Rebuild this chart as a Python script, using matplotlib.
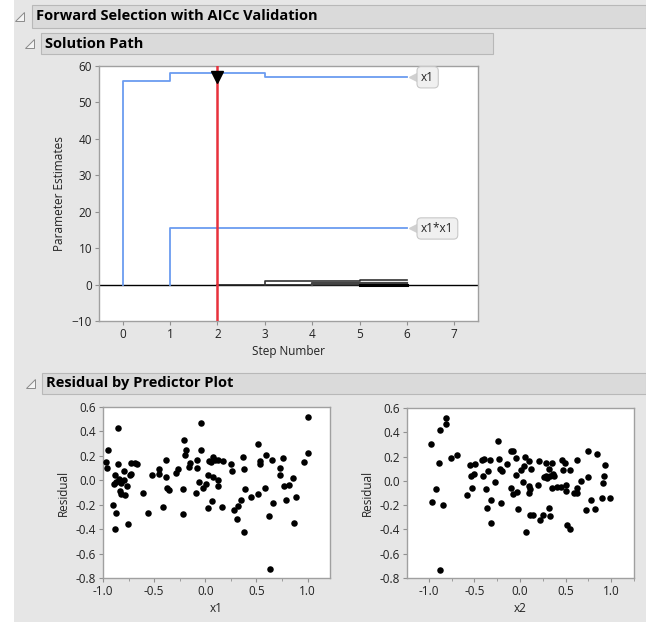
import numpy as np
import matplotlib
matplotlib.use("Agg")
import matplotlib.pyplot as plt
from matplotlib.patches import Rectangle, Polygon
from matplotlib.ticker import MultipleLocator, FormatStrFormatter

plt.rcParams['font.family'] = ['Open Sans', 'DejaVu Sans']

# %%
# Solution path: parameter estimates by step
steps = [0, 1, 2, 3, 4, 5, 6]
est_x1 = [55.8, 58.1, 58.1, 57.1, 57.0, 56.9, 56.9]
est_x1x1 = [0, 15.5, 15.5, 15.4, 15.4, 15.4, 15.4]
est_x2 = [0, 0, -0.2, -0.1, -0.1, -0.1, -0.1]
est_t4 = [0, 0, 0, 1.1, 1.1, 1.2, 1.2]
est_t5 = [0, 0, 0, 0, 0.4, 0.4, 0.4]
est_t6 = [0, 0, 0, 0, 0, -0.2, -0.2]
best_step = 2

# Residual by predictor
x1 = [-0.97, -0.95, -0.96, -0.85, -0.85, -0.90, -0.87, -0.88, -0.88, -0.89,
      -0.87, -0.84, -0.82, -0.83, -0.82, -0.79, -0.79, -0.78, -0.77, -0.76,
      -0.73, -0.73, -0.74, -0.69, -0.67, -0.61, -0.56, -0.52, -0.45, -0.45,
      -0.41, -0.38, -0.38, -0.37, -0.35, -0.29, -0.27, -0.21, -0.22, -0.22,
      -0.20, -0.19, -0.16, -0.15, -0.08, -0.08, -0.09, -0.06, -0.04, -0.04,
      -0.02, 0.01, 0.03, 0.03, 0.04, 0.06, 0.08, 0.07, 0.08, 0.10,
      0.12, 0.12, 0.12, 0.16, 0.17, 0.25, 0.26, 0.28, 0.32, 0.31,
      0.35, 0.37, 0.38, 0.38, 0.39, 0.45, 0.52, 0.52, 0.54, 0.54,
      0.58, 0.59, 0.62, 0.63, 0.65, 0.66, 0.73, 0.73, 0.76, 0.77,
      0.79, 0.82, 0.86, 0.87, 0.89, 0.97, 1.00, 1.00]
res1 = [0.15, 0.25, 0.10, 0.43, 0.13, -0.20, -0.27, -0.40, 0.04, -0.03,
        -0.01, 0.01, -0.02, -0.09, -0.11, 0.08, 0.00, -0.12, -0.05, -0.36,
        0.14, 0.05, 0.04, 0.14, 0.13, -0.10, -0.27, 0.04, 0.09, 0.05,
        -0.22, 0.03, 0.17, -0.06, -0.08, 0.06, 0.09, 0.33, -0.07, -0.28,
        0.21, 0.25, 0.11, 0.14, 0.17, 0.10, -0.10, -0.01, 0.47, 0.25,
        -0.06, -0.03, -0.23, 0.04, 0.16, 0.15, 0.03, -0.17, 0.19, 0.17,
        0.00, -0.05, 0.17, -0.22, 0.16, 0.13, 0.08, -0.24, -0.21, -0.32,
        -0.16, 0.19, 0.09, -0.42, -0.07, -0.14, 0.30, -0.11, 0.13, 0.16,
        -0.06, 0.21, -0.29, -0.73, 0.17, -0.19, 0.10, 0.04, 0.18, -0.05,
        -0.16, -0.04, 0.02, -0.35, -0.14, 0.15, 0.52, 0.22]

x2 = [-0.98, -0.97, -0.92, -0.89, -0.88, -0.88, -0.85, -0.81, -0.81, -0.76,
      -0.69, -0.58, -0.55, -0.54, -0.53, -0.50, -0.49, -0.42, -0.41, -0.39,
      -0.37, -0.36, -0.35, -0.33, -0.32, -0.32, -0.28, -0.24, -0.23, -0.22,
      -0.20, -0.21, -0.14, -0.10, -0.08, -0.10, -0.08, -0.04, -0.04, -0.03,
      -0.02, 0.01, 0.03, 0.04, 0.05, 0.07, 0.10, 0.10, 0.11, 0.10,
      0.12, 0.11, 0.14, 0.20, 0.21, 0.22, 0.25, 0.26, 0.29, 0.29,
      0.30, 0.32, 0.32, 0.33, 0.33, 0.35, 0.35, 0.36, 0.37, 0.40,
      0.45, 0.46, 0.47, 0.49, 0.50, 0.50, 0.52, 0.55, 0.55, 0.59,
      0.62, 0.63, 0.63, 0.67, 0.72, 0.74, 0.75, 0.78, 0.82, 0.84,
      0.90, 0.91, 0.92, 0.93, 0.99]
res2 = [0.30, -0.17, -0.07, 0.15, 0.42, -0.73, -0.20, 0.47, 0.52, 0.19,
        0.21, -0.12, 0.13, 0.04, -0.06, 0.06, 0.14, 0.17, 0.04, 0.18,
        -0.07, -0.22, 0.08, 0.17, -0.16, -0.35, -0.01, 0.33, 0.18, 0.10,
        0.08, -0.18, 0.14, 0.25, 0.25, -0.06, -0.11, 0.19, 0.05, -0.09,
        -0.23, 0.09, -0.01, 0.12, 0.20, -0.42, 0.16, -0.04, -0.07, -0.10,
        0.10, -0.28, -0.28, -0.03, 0.16, -0.32, -0.28, 0.03, 0.04, 0.15,
        0.02, 0.10, -0.22, -0.29, 0.04, 0.15, -0.06, 0.06, 0.04, -0.05,
        -0.05, 0.17, 0.09, 0.15, -0.03, -0.08, -0.36, -0.40, 0.09, -0.10,
        -0.10, -0.06, 0.17, 0.00, -0.24, 0.03, 0.25, -0.16, -0.23, 0.22,
        -0.14, -0.02, 0.04, 0.13, -0.14]

# %%
W, H = 646, 627
fig = plt.figure(figsize=(W / 100, H / 100), dpi=100, facecolor='white')


def fbox(l, t, r, b):
    return [l / W, 1 - b / H, (r - l) / W, (b - t) / H]


def fpt(x, y):
    return (x / W, 1 - y / H)


# gray report background
fig.add_artist(Rectangle(fpt(14, 622), (W - 14) / W, 622 / H, transform=fig.transFigure,
                         fc='#e6e6e6', ec='none', zorder=-10))


def header(l, t, r, b, text):
    fig.add_artist(Rectangle(fpt(l, b), (r - l) / W, (b - t) / H, transform=fig.transFigure,
                             fc='#dadada', ec='#b8b8b8', lw=0.8))
    s = (b - t) * 0.42
    cx = l - s - 3
    cy = (t + b) / 2 + s / 2
    fig.add_artist(Polygon([fpt(cx - s / 2, cy), fpt(cx + s / 2, cy), fpt(cx + s / 2, cy - s)],
                           closed=True, transform=fig.transFigure, fc='#f4f4f4', ec='#8a8a8a', lw=0.7))
    fig.text((l + 4) / W, 1 - (t + b) / 2 / H, text, fontsize=10.5, fontweight='bold',
             ha='left', va='center', color='black')


header(32, 5, 646, 28, "Forward Selection with AICc Validation")
header(41, 33, 493, 54, "Solution Path")
header(42, 373, 646, 394, "Residual by Predictor Plot")


def style_axes(ax):
    for sp in ax.spines.values():
        sp.set_color('#a0a0a0')
        sp.set_linewidth(1)
    ax.tick_params(direction='out', length=3, width=0.8, color='#909090',
                   labelsize=8.5, labelcolor='#222222', pad=2)
    ax.tick_params(which='minor', direction='out', length=2, width=0.6, color='#909090')


# %%
# Solution path
ax = fig.add_axes(fbox(99, 66, 478, 321))
style_axes(ax)
ax.axhline(0, color='black', lw=1, zorder=2)
blue = '#6b9cf0'
for vals, col, lw in [(est_x1, blue, 1.3), (est_x1x1, blue, 1.3),
                      (est_x2, '#222222', 1.2), (est_t4, '#333333', 1.2),
                      (est_t5, '#444444', 1.6), (est_t6, 'black', 2.2)]:
    # draw each term only from the step where it enters the model
    k = next(i for i, v in enumerate(vals) if v != 0)
    ax.step([steps[k]] + steps[k:], [0] + vals[k:], where='post', color=col, lw=lw, zorder=3)
ax.axvline(best_step, color='#e8313c', lw=1.8, zorder=4)
ax.plot(best_step, 57, marker='v', color='black', markersize=9, zorder=5)

for vals, lab in [(est_x1, 'x1'), (est_x1x1, 'x1*x1')]:
    yv = vals[-1]
    ax.plot(6.13, yv, marker='<', color='#d0d0d0', markersize=6, zorder=5)
    ax.text(6.3, yv, lab, fontsize=8.5, ha='left', va='center', color='#222222', zorder=6,
            bbox=dict(boxstyle='round,pad=0.35', fc='#f0f0f0', ec='#c8c8c8', lw=0.8))

ax.set_xlim(-0.5, 7.5)
ax.set_ylim(-10, 60)
ax.set_xticks(range(0, 8))
ax.set_yticks(range(-10, 61, 10))
ax.set_xlabel("Step Number", fontsize=8.5, color='#222222', labelpad=3)
ax.set_ylabel("Parameter Estimates", fontsize=8.5, color='#222222', labelpad=4)

# %%
# Residual by predictor plots
for pos, xs, ys, lab, xl in [((103, 407, 330, 578), x1, res1, 'x1', (-1.0, 1.22)),
                             ((407, 408, 634, 578), x2, res2, 'x2', (-1.24, 1.25))]:
    a = fig.add_axes(fbox(*pos))
    style_axes(a)
    a.scatter(xs, ys, s=22, color='black', linewidths=0, zorder=3)
    a.set_xlim(*xl)
    a.set_ylim(-0.8, 0.6)
    a.xaxis.set_major_locator(MultipleLocator(0.5))
    a.xaxis.set_minor_locator(MultipleLocator(0.25))
    a.yaxis.set_major_locator(MultipleLocator(0.2))
    a.xaxis.set_major_formatter(FormatStrFormatter('%.1f'))
    a.yaxis.set_major_formatter(FormatStrFormatter('%.1f'))
    a.set_xlabel(lab, fontsize=8.5, color='#222222', labelpad=3)
    a.set_ylabel("Residual", fontsize=8.5, color='#222222', labelpad=4)

fig.savefig("out.png", dpi=100, facecolor='white')
